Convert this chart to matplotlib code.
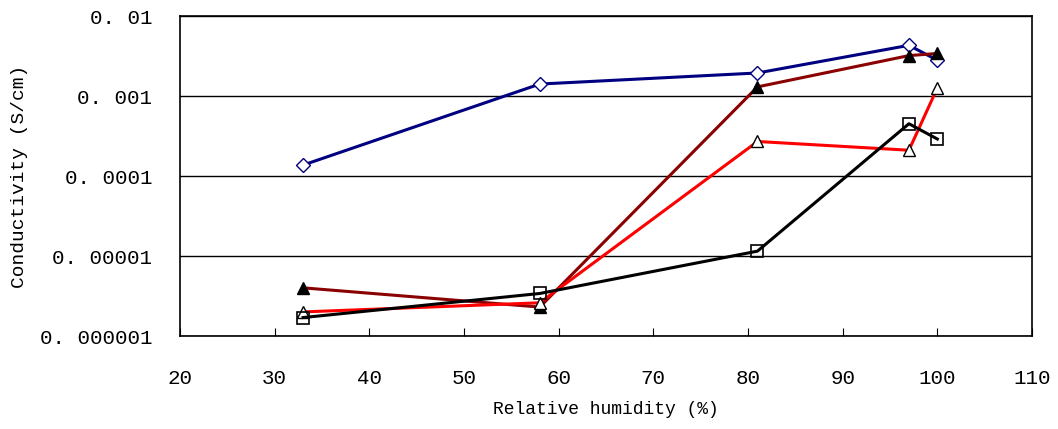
import matplotlib
matplotlib.use('Agg')
import matplotlib.pyplot as plt
from matplotlib.ticker import FixedLocator, NullLocator

# humidity values (%)
rh = [33, 58, 81, 97, 100]

# conductivity series (S/cm)
blue_diamond = [1.37e-4, 1.41e-3, 1.94e-3, 4.3e-3, 2.8e-3]
brown_filled = [4.0e-6, 2.3e-6, 1.3e-3, 3.2e-3, 3.4e-3]
red_open = [2.0e-6, 2.6e-6, 2.7e-4, 2.1e-4, 1.26e-3]
black_square = [1.7e-6, 3.4e-6, 1.15e-5, 4.5e-4, 2.9e-4]

y_ticks = [1e-6, 1e-5, 1e-4, 1e-3, 1e-2]
y_labels = ['0. 000001', '0. 00001', '0. 0001', '0. 001', '0. 01']
x_ticks = list(range(20, 111, 10))

plt.rcParams['font.family'] = ['Liberation Mono', 'DejaVu Sans Mono']

fig = plt.figure(figsize=(10.58, 4.29), dpi=100)
ax = fig.add_axes([180 / 1058, 1 - 336 / 429, (1032 - 180) / 1058, 320 / 429])

lw = 2.2
ax.plot(rh, blue_diamond, color='#000080', lw=lw, marker='D', ms=7,
        mfc='white', mec='#000080', mew=1, zorder=3)
ax.plot(rh, brown_filled, color='#8b0000', lw=lw, marker='^', ms=9,
        mfc='black', mec='black', zorder=3)
ax.plot(rh, red_open, color='#ff0000', lw=lw, marker='^', ms=9,
        mfc='white', mec='black', mew=1, zorder=3)
ax.plot(rh, black_square, color='black', lw=lw, marker='s', ms=9,
        mfc='none', mec='black', mew=1.2, zorder=3)

ax.set_yscale('log')
ax.set_ylim(1e-6, 1e-2)
ax.set_xlim(20, 110)
ax.yaxis.set_major_locator(FixedLocator(y_ticks))
ax.yaxis.set_minor_locator(NullLocator())
ax.set_yticklabels(y_labels)
ax.set_xticks(x_ticks)
ax.grid(axis='y', color='black', lw=1)
ax.tick_params(axis='x', direction='in', length=6, labelsize=15, pad=24)
ax.tick_params(axis='y', direction='out', length=0, labelsize=15, pad=20)
for s in ax.spines.values():
    s.set_linewidth(1.2)

ax.set_xlabel('Relative humidity (%)', fontsize=13)
ax.set_ylabel('Conductivity (S/cm)', fontsize=14)
ax.xaxis.set_label_coords(0.5, -0.231)
ax.xaxis.label.set_va('center')
ax.yaxis.set_label_coords(-0.188, 0.5)
ax.yaxis.label.set_va('center')

fig.savefig('out.png', dpi=100)
